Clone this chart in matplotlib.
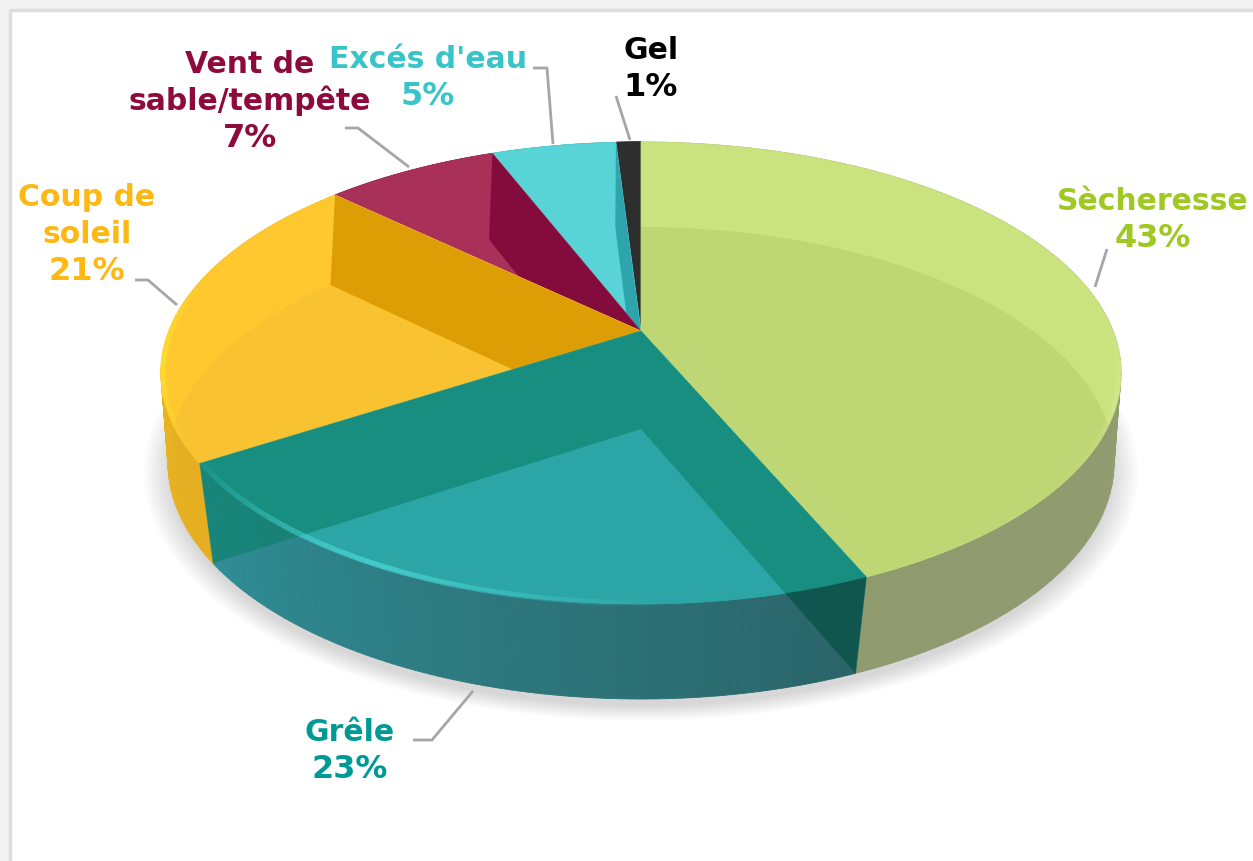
import numpy as np
import matplotlib
matplotlib.use('Agg')
import matplotlib.pyplot as plt
from matplotlib.collections import PolyCollection, LineCollection
from matplotlib.colors import to_rgb
from matplotlib.patches import Polygon, Rectangle

categories = ['Sècheresse', 'Grêle', 'Coup de\nsoleil', 'Vent de\nsable/tempête', "Excés d'eau", 'Gel']
values = [43.49, 22.51, 21, 7, 5, 1]

top_colors = ['#cbe37f', '#2ba5a5', '#fec82e', '#a93058', '#58d4d6', '#2e2e2e']
base_shades = ['#bfd675', '#2ba5a5', '#f9c230', '#a93058', '#58d4d6', '#2e2e2e']
wall_left = ['#8f9a6e', '#2f8e96', '#f0bc28', '#7d1e3e', '#3aa0a4', '#222222']
wall_right = ['#959f74', '#2a6468', '#e4ae20', '#7d1e3e', '#3aa0a4', '#222222']
inner_colors = [None, '#0a8068', '#d99a00', '#80083a', '#2aa0a8', None]
rim_colors = ['#dff09a', '#4fdcdc', '#ffe22e', '#c04070', '#70e0e0', '#444444']
rim_peaks = [105, 208, 262, 340, 350, 358]
rim_widths = [20, 32, 22, 1, 1, 1]
rim_alpha = [0.35, 0.7, 0.8, 0, 0, 0]
text_colors = ['#9fc820', '#009a96', '#fdb813', '#8f0a3c', '#38c4c8', '#000000']

# baseline of the first line of each label
label_pos = [(1153, 210), (350, 741), (87, 206), (250, 73), (428, 68), (651, 59)]
leaders = [
    [(1095, 288), (1107, 250)],
    [(473, 692), (432, 741), (413, 741)],
    [(135, 281), (148, 281), (177, 306)],
    [(345, 129), (358, 129), (409, 168)],
    [(533, 69), (547, 69), (553, 145)],
    [(616, 97), (630, 141)],
]
LINE_STEP = 37

# ellipse settings: pixel centre, half width, half heights back and front
TOP = (641, 332, 472, 189, 273)
BASE = (641, 430, 468, 202, 270)


def project(theta, disc, scale=1.0):
    cx, cy, r, back, front = disc
    a = 2 / (1 / back + 1 / front)
    b = a / front - 1
    th = np.radians(theta)
    t = -np.cos(th)
    d = 1 + b * t
    return np.column_stack([cx + scale * r * np.sin(th) / d, cy + scale * a * t / d])


def slice_poly(t0, t1, disc):
    arc = project(np.linspace(t0, t1, 120), disc)
    return np.vstack([[disc[0], disc[1]], arc])


def mix(c0, c1, f):
    c0, c1 = np.array(to_rgb(c0)), np.array(to_rgb(c1))
    return tuple(c0 + (c1 - c0) * f)


fig = plt.figure(figsize=(12.53, 8.62), dpi=100, facecolor='#f3f3f3')
ax = fig.add_axes([0, 0, 1, 1])
ax.set_xlim(0, 1253)
ax.set_ylim(862, 0)
ax.axis('off')

ax.add_patch(Rectangle((10, 11), 1300, 900, fc='white', ec='#dddddd', lw=2.5, zorder=0))

# soft shadow under the disc
full = np.linspace(0, 360, 361)
for k in range(20):
    pts = project(full, BASE, 0.995 + 0.003 * k) + [0, 8]
    ax.fill(pts[:, 0], pts[:, 1], color='black', alpha=0.009, lw=0, zorder=1)

edges = np.concatenate([[0], np.cumsum(values)]) * 3.6
spans = list(zip(edges[:-1], edges[1:]))

# outer walls, cut in thin strips so the colour can run along the rim
for i, (t0, t1) in enumerate(spans):
    ths = np.linspace(t0, t1, 90)
    top = project(ths, TOP)
    bot = project(ths, BASE)
    quads, cols = [], []
    for j in range(len(ths) - 1):
        quads.append([top[j], top[j + 1], bot[j + 1], bot[j]])
        f = (ths[j] - t0) / max(t1 - t0, 1e-6)
        cols.append(mix(wall_right[i], wall_left[i], f))
    ax.add_collection(PolyCollection(quads, facecolors=cols, edgecolors=cols, linewidths=0.6, zorder=2))

# top surface, with the base showing through it
draw_order = [5, 4, 3, 0, 2, 1]
for z, i in enumerate(draw_order):
    t0, t1 = spans[i]
    poly = slice_poly(t0, t1, TOP)
    ax.add_patch(Polygon(poly, closed=True, fc=top_colors[i], ec=top_colors[i], lw=0.5, zorder=3 + z * 0.1))
    clip = Polygon(poly, closed=True, transform=ax.transData)
    shade = ax.add_patch(Polygon(slice_poly(t0, t1, BASE), closed=True, fc=base_shades[i], lw=0, zorder=3.02 + z * 0.1))
    shade.set_clip_path(clip)

    if inner_colors[i] is None:
        continue
    a_top, a_bot = np.array(TOP[:2], float), np.array(BASE[:2], float)
    end_top, end_bot = project([t1], TOP)[0], project([t1], BASE)[0]
    if i == 1:
        # this slice sits in front, both inner walls show through it
        start_top, start_bot = project([t0], TOP)[0], project([t0], BASE)[0]
        wall = [a_top, end_top, end_bot, a_bot, start_bot, start_top]
        ax.add_patch(Polygon(wall, closed=True, fc=inner_colors[i], alpha=0.6, lw=0, zorder=5))
        # darker where the right inner wall crosses the outer wall
        ths = np.linspace(t0, t1, 120)
        strip = np.vstack([project(ths, TOP), project(ths, BASE)[::-1]])
        strip_clip = Polygon(strip, closed=True, transform=ax.transData)
        dark = ax.add_patch(Polygon([a_bot, start_bot, start_top], closed=True, fc='#0a3030', alpha=0.45, lw=0, zorder=5.1))
        dark.set_clip_path(strip_clip)
    else:
        wall = [a_top, end_top, end_bot, a_bot]
        p = ax.add_patch(Polygon(wall, closed=True, fc=inner_colors[i], alpha=0.9, lw=0, zorder=3.05 + z * 0.1))
        p.set_clip_path(clip)

# light along the rim of the top surface
for i, (t0, t1) in enumerate(spans):
    if rim_alpha[i] == 0:
        continue
    ths = np.linspace(t0, t1, 120)
    pts = project(ths, TOP, 0.996)
    segs = np.stack([pts[:-1], pts[1:]], axis=1)
    dist = np.abs(ths[:-1] - rim_peaks[i])
    alpha = np.clip(1 - dist / rim_widths[i], 0, 1) * rim_alpha[i]
    rgba = [to_rgb(rim_colors[i]) + (a,) for a in alpha]
    ax.add_collection(LineCollection(segs, colors=rgba, linewidths=4, zorder=6))

for pts in leaders:
    xs, ys = zip(*pts)
    ax.plot(xs, ys, color='#a6a6a6', lw=2, solid_capstyle='butt', zorder=7)

# each line is its own text, the two labels at the top interlock in the reference
for name, v, pos, col in zip(categories, values, label_pos, text_colors):
    lines = name.split('\n')
    for k, line in enumerate(lines):
        ax.text(pos[0], pos[1] + k * LINE_STEP, line, color=col, fontsize=21.5, fontweight='bold',
                family='DejaVu Sans', ha='center', va='baseline', zorder=8)
    ax.text(pos[0], pos[1] + len(lines) * LINE_STEP, f'{v:.0f}%', color=col, fontsize=23, fontweight='bold',
            family='DejaVu Sans', ha='center', va='baseline', zorder=8)

fig.savefig('out.png', dpi=100, facecolor=fig.get_facecolor())
